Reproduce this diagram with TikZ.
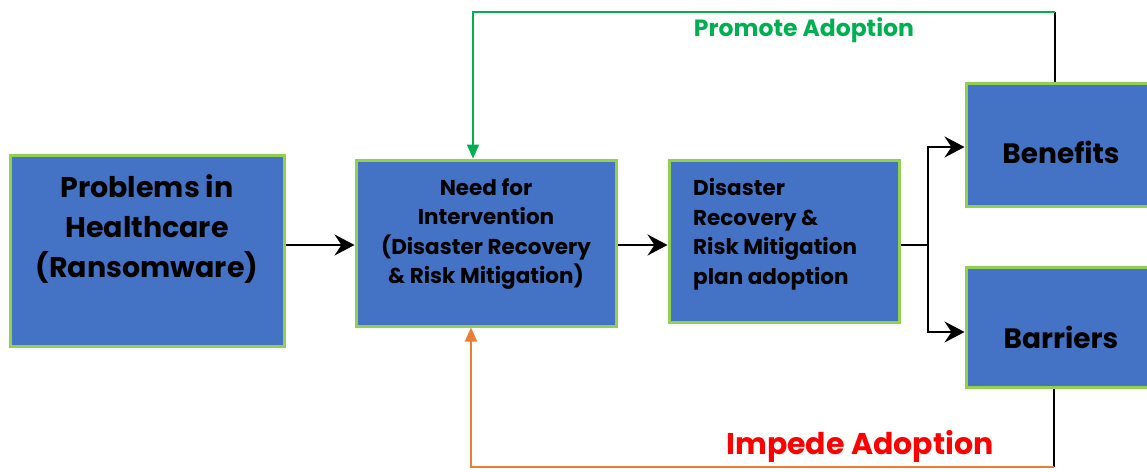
\documentclass[tikz,border=0pt]{standalone}
\usepackage{fontspec}
\setmainfont{Poppins}
\usetikzlibrary{arrows.meta}
\definecolor{boxblue}{HTML}{4472C4}
\definecolor{boxgreen}{HTML}{92D050}
\definecolor{promgreen}{HTML}{00B050}
\definecolor{impor}{HTML}{ED7D31}
\definecolor{impred}{HTML}{FF0000}
\tikzset{
  box/.style={draw=boxgreen, fill=boxblue, line width=3pt, inner sep=0pt, rectangle},
  txt/.style={font=\bfseries, text=black, align=center, inner sep=0pt},
  blackarrow/.style={line width=2.6pt, -{Stealth[length=20pt,width=21pt,inset=7pt]}},
  blackline/.style={line width=2.6pt},
}
\begin{document}
\begin{tikzpicture}[x=1pt,y=-1pt]
\useasboundingbox (0,0) rectangle (1147,471);
% boxes
\node[box, minimum width=274pt, minimum height=191pt] (prob) at (147,250.5) {};
\node[box, minimum width=260pt, minimum height=166pt] (need) at (486,243) {};
\node[box, minimum width=230pt, minimum height=162pt] (plan) at (784,241) {};
\node[box, minimum width=184pt, minimum height=123pt] (ben) at (1058,144.5) {};
\node[box, minimum width=184pt, minimum height=120pt] (bar) at (1058,327) {};
% texts
\node[txt, font=\fontsize{28.5}{40}\bfseries\selectfont] (probt) at (147,229) {Problems in\\Healthcare\\(Ransomware)};
\node[txt, font=\fontsize{21.5}{29.5}\bfseries\selectfont] (needt) at (486,234) {Need for\\Intervention\\(Disaster Recovery\\\& Risk Mitigation)};
\node[txt, font=\fontsize{21.5}{29.5}\bfseries\selectfont, align=left, anchor=west] (plant) at (693,234) {Disaster\\Recovery \&\\Risk Mitigation\\plan adoption};
\node[txt, font=\fontsize{28}{30}\bfseries\selectfont] (bent) at (1061,152) {Benefits};
\node[txt, font=\fontsize{28}{30}\bfseries\selectfont] (bart) at (1061,337) {Barriers};
% labels
\node[txt, text=promgreen, font=\fontsize{23.5}{24}\bfseries\selectfont] (promt) at (804,30) {Promote Adoption};
\node[txt, text=impred, font=\fontsize{30}{28}\bfseries\selectfont] (impt) at (860,446) {Impede Adoption};
% coordinates
\coordinate (split) at (928,245);
\coordinate (gtop) at (1055,12);
\coordinate (gleft) at (473,12);
\coordinate (obot) at (1054,467);
\coordinate (oleft) at (471,467);
% black arrows
\draw[blackarrow] (prob.east |- 0,245) -- (need.west |- 0,245);
\draw[blackarrow] (need.east |- 0,245) -- (plan.west |- 0,245);
\draw[blackline] (plan.east |- 0,245) -- (split);
\draw[blackarrow] (split) |- (ben.west |- 0,147);
\draw[blackarrow] (split) |- (bar.west |- 0,332);
% promote loop
\draw[line width=2pt] (ben.north -| gtop) -- (gtop);
\draw[line width=2pt, promgreen, -{Triangle[length=14pt,width=12pt]}] (gtop) -- (gleft) -- (gleft |- need.north);
% impede loop
\draw[line width=2pt] (bar.south -| obot) -- (obot);
\draw[line width=2pt, impor, -{Triangle[length=14pt,width=12pt]}] (obot) -- (oleft) -- (oleft |- need.south);
\end{tikzpicture}
\end{document}
